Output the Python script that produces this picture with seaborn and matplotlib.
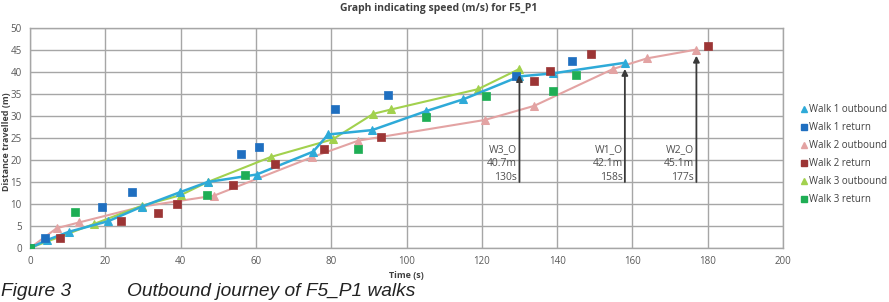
import matplotlib
matplotlib.use("Agg")
import matplotlib.pyplot as plt
from matplotlib.lines import Line2D
import seaborn as sns
import pandas as pd

# ---- data ----
w1_out_t = [0, 4.5, 10.4, 20.8, 29.7, 39.9, 47.2, 60.2, 75.2, 79.2, 90.9, 105.2, 115.1, 130, 139, 158]
w1_out_d = [0, 1.8, 3.7, 6.1, 9.4, 12.7, 15.0, 16.7, 21.9, 25.8, 26.8, 31.1, 33.8, 39.0, 39.7, 42.1]
w1_ret_t = [0, 4, 19.2, 27.1, 56, 60.9, 81, 95.2, 129, 144]
w1_ret_d = [0, 2.3, 9.3, 12.7, 21.3, 22.9, 31.5, 34.8, 39.1, 42.6]
w2_out_t = [0, 7.1, 13, 29.7, 48.9, 74.8, 87.2, 120.8, 133.9, 154.9, 163.9, 177]
w2_out_d = [0, 4.5, 5.8, 9.4, 11.9, 20.6, 24.4, 29.1, 32.3, 40.7, 43.1, 45.1]
w2_ret_t = [8, 24.1, 34.1, 39, 54, 65.1, 78.1, 93.1, 133.9, 138.1, 149, 180]
w2_ret_d = [2.2, 6.1, 8.0, 10.0, 14.3, 19.2, 22.5, 25.3, 38.0, 40.3, 44.1, 45.9]
w3_out_t = [0, 17.1, 29.7, 40, 47.2, 64, 80.4, 91.2, 96, 119, 130]
w3_out_d = [0, 5.5, 9.6, 12.0, 15.0, 20.7, 24.7, 30.5, 31.5, 36.1, 40.7]
w3_ret_t = [0, 12, 47.1, 57.1, 87.2, 105.2, 121, 139, 145]
w3_ret_d = [0, 8.2, 12.1, 16.7, 22.5, 29.7, 34.5, 35.7, 39.3]

labels = ["Walk 1 outbound", "Walk 1 return", "Walk 2 outbound",
          "Walk 2 return", "Walk 3 outbound", "Walk 3 return"]
ann_names = ["W3_O", "W1_O", "W2_O"]
ann_t = [130, 158, 177]
ann_d = [40.7, 42.1, 45.1]

c_w1o = "#2eaad8"
c_w1r = "#1f6fc0"
c_w2o = "#e3a3a3"
c_w2r = "#9c3535"
c_w3o = "#a2d14e"
c_w3r = "#1fae55"

sns.set_style("white")
plt.rcParams['font.family'] = ['Open Sans', 'DejaVu Sans']

fig = plt.figure(figsize=(8.89, 3.02), dpi=100)
ax = fig.add_axes([30/889, 1-248/302, (783-30)/889, (248-28)/302])

grid_c = "#a6a6a6"

def outbound(t, d, c, lw=1.5):
    df = pd.DataFrame({"t": t, "d": d})
    sns.lineplot(data=df, x="t", y="d", ax=ax, color=c, lw=lw, marker="^",
                 markersize=6, markeredgecolor=c, sort=False, zorder=3)

def ret(t, d, c):
    df = pd.DataFrame({"t": t, "d": d})
    sns.scatterplot(data=df, x="t", y="d", ax=ax, color=c, marker="s", s=38,
                    edgecolor=c, linewidth=0.5, zorder=4)

outbound(w2_out_t, w2_out_d, c_w2o)
outbound(w3_out_t, w3_out_d, c_w3o)
outbound(w1_out_t, w1_out_d, c_w1o, lw=1.8)
ret(w1_ret_t, w1_ret_d, c_w1r)
ret(w2_ret_t, w2_ret_d, c_w2r)
ret(w3_ret_t, w3_ret_d, c_w3r)

ax.set_xlim(0, 200)
ax.set_ylim(0, 50)
ax.set_xticks(range(0, 201, 20))
ax.set_yticks(range(0, 51, 5))
ax.grid(True, color=grid_c, lw=1.0)
ax.set_axisbelow(True)
for s in ax.spines.values():
    s.set_color(grid_c)
    s.set_linewidth(1.0)
ax.tick_params(axis="both", labelsize=7, colors="#595959", length=3, width=0.8,
               direction="out", pad=3)
ax.tick_params(axis="both", color=grid_c)
ax.set_xlabel("")
ax.set_ylabel("")

# annotations
for name, t, d in zip(ann_names, ann_t, ann_d):
    ax.annotate("", xy=(t, d - 1.4), xytext=(t, 15.0),
                arrowprops=dict(arrowstyle="-|>", color="#3a3a3a", lw=1.3,
                                mutation_scale=9, shrinkA=0, shrinkB=0),
                zorder=5)
    ax.text(t - 0.6, 22.3, name, ha="right", va="center", fontsize=7.5, color="#505050")
    ax.text(t - 0.6, 19.2, f"{d}m", ha="right", va="center", fontsize=7.5, color="#505050")
    ax.text(t - 0.6, 16.1, f"{t}s", ha="right", va="center", fontsize=7.5, color="#505050")

# titles
fig.text(439/889, 1-9/302, "Graph indicating speed (m/s) for F5_P1", ha="center",
         va="center", fontsize=7.5, fontweight="bold", color="#404040")
fig.text(406/889, 1-276/302, "Time (s)", ha="center", va="center", fontsize=6.5,
         fontweight="bold", color="#404040")
fig.text(7/889, 1-142/302, "Distance travelled (m)", ha="center", va="center",
         rotation=90, fontsize=6.5, fontweight="bold", color="#404040")

# legend
handles = [
    Line2D([], [], ls="none", marker="^", color=c_w1o, markersize=5),
    Line2D([], [], ls="none", marker="s", color=c_w1r, markersize=5),
    Line2D([], [], ls="none", marker="^", color=c_w2o, markersize=5),
    Line2D([], [], ls="none", marker="s", color=c_w2r, markersize=5),
    Line2D([], [], ls="none", marker="^", color=c_w3o, markersize=5),
    Line2D([], [], ls="none", marker="s", color=c_w3r, markersize=5),
]
leg = fig.legend(handles, labels, loc="center left",
                 bbox_to_anchor=(801/889, 1-155/302), frameon=False,
                 fontsize=7, handlelength=0.6, handletextpad=0.2,
                 labelspacing=0.72, borderaxespad=0, borderpad=0)
for txt in leg.get_texts():
    txt.set_color("#404040")

# caption
fig.text(1/889, 5.5/302, "Figure 3", ha="left", va="baseline", fontsize=13.8,
         style="italic", family="Liberation Sans", color="#222222")
fig.text(127/889, 5.5/302, "Outbound journey of F5_P1 walks", ha="left",
         va="baseline", fontsize=13.8, style="italic", family="Liberation Sans",
         color="#222222")

fig.savefig("out.png", dpi=100)
